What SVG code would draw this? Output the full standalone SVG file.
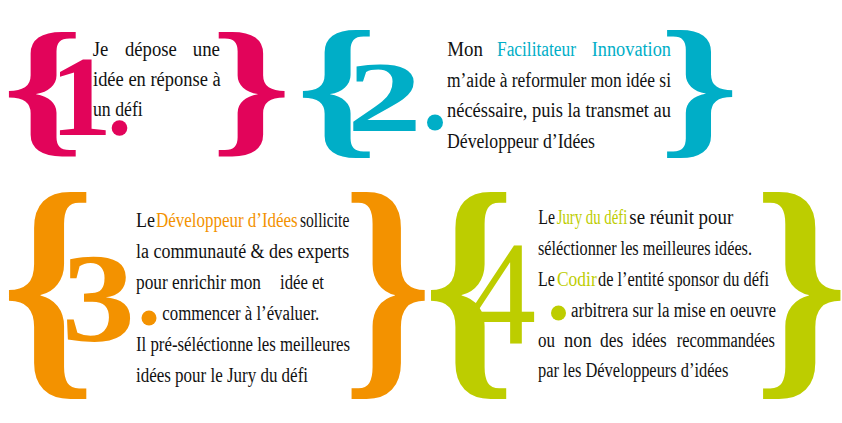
<svg xmlns="http://www.w3.org/2000/svg" width="842" height="423" viewBox="0 0 842 423">
<style>
.t{font-family:"Liberation Serif","Times New Roman",serif;font-size:20px;fill:#111}
.br{font-family:"Liberation Serif","Times New Roman",serif;font-weight:bold}
.num{font-family:"Liberation Serif","Times New Roman",serif;font-weight:bold}
.pink{fill:#E2045A}
.teal{fill:#00AEC7}
.orange{fill:#F39200}
.green{fill:#BDCD00}
</style>
<rect width="842" height="423" fill="#fff"/>
<g id="node1">
<text class="br pink" font-size="151" text-anchor="middle" transform="translate(43,137) scale(1.37,1)">{</text>
<text class="br pink" font-size="151" text-anchor="middle" transform="translate(251,137) scale(1.35,1)">}</text>
<text class="num pink" font-size="114" transform="translate(50,135) scale(1.09,1)">1</text>
<circle class="pink" cx="119.5" cy="128" r="7.8"/>
<text class="t" x="92.7" y="56" textLength="15.6" lengthAdjust="spacingAndGlyphs">Je</text>
<text class="t" x="125" y="56" textLength="51.7" lengthAdjust="spacingAndGlyphs">dépose</text>
<text class="t" x="192.7" y="56" textLength="27.3" lengthAdjust="spacingAndGlyphs">une</text>
<text class="t" x="93" y="86" textLength="127.7" lengthAdjust="spacingAndGlyphs">idée en réponse à</text>
<text class="t" x="93" y="116" textLength="49.7" lengthAdjust="spacingAndGlyphs">un défi</text>
</g>
<g id="node2">
<text class="br teal" font-size="155" text-anchor="middle" transform="translate(337,138) scale(1.336,1)">{</text>
<text class="br teal" font-size="155" text-anchor="middle" transform="translate(699,137) scale(1.3,1)">}</text>
<text class="num teal" font-size="100" transform="translate(347,130) scale(1.5,1)">2</text>
<circle class="teal" cx="435" cy="122.5" r="8"/>
<text class="t" x="447.3" y="56" textLength="35.7" lengthAdjust="spacingAndGlyphs">Mon</text>
<text class="t teal" x="497" y="56" textLength="79" lengthAdjust="spacingAndGlyphs">Facilitateur</text>
<text class="t teal" x="591.7" y="56" textLength="79.3" lengthAdjust="spacingAndGlyphs">Innovation</text>
<text class="t" x="447" y="86.5" textLength="224" lengthAdjust="spacingAndGlyphs">m’aide à reformuler mon idée si</text>
<text class="t" x="447" y="117" textLength="224" lengthAdjust="spacingAndGlyphs">nécéssaire, puis la transmet au</text>
<text class="t" x="447" y="147.5" textLength="148" lengthAdjust="spacingAndGlyphs">Développeur d’Idées</text>
</g>
<g id="node3">
<text class="br orange" font-size="250" text-anchor="middle" transform="translate(48.5,365.5) scale(0.958,1)">{</text>
<text class="br orange" font-size="250" text-anchor="middle" transform="translate(387.5,365.5) scale(0.906,1)">}</text>
<text class="num orange" font-size="128" transform="translate(61.6,341) scale(1.15,1)">3</text>
<circle class="orange" cx="149" cy="318" r="7.5"/>
<text class="t" x="136" y="226.7" textLength="19" lengthAdjust="spacingAndGlyphs">Le</text>
<text class="t orange" x="156" y="226.7" textLength="141.7" lengthAdjust="spacingAndGlyphs">Développeur d’Idées</text>
<text class="t" x="300" y="226.7" textLength="49.3" lengthAdjust="spacingAndGlyphs">sollicite</text>
<text class="t" x="136" y="257.5" textLength="213.3" lengthAdjust="spacingAndGlyphs">la communauté &amp; des experts</text>
<text class="t" x="136" y="288.5" textLength="125" lengthAdjust="spacingAndGlyphs">pour enrichir mon</text>
<text class="t" x="280" y="288.5" textLength="44" lengthAdjust="spacingAndGlyphs">idée et</text>
<text class="t" x="162.3" y="319.5" textLength="157" lengthAdjust="spacingAndGlyphs">commencer à l’évaluer.</text>
<text class="t" x="136" y="350.5" textLength="214" lengthAdjust="spacingAndGlyphs">Il pré-séléctionne les meilleures</text>
<text class="t" x="136" y="381.5" textLength="172" lengthAdjust="spacingAndGlyphs">idées pour le Jury du défi</text>
</g>
<g id="node4">
<text class="br green" font-size="250" text-anchor="middle" transform="translate(469.4,365.5) scale(0.932,1)">{</text>
<text class="br green" font-size="250" text-anchor="middle" transform="translate(801,365.5) scale(0.958,1)">}</text>
<text class="green" font-family="Liberation Serif, serif" font-size="149" transform="translate(467,343) scale(0.93,1)">4</text>
<circle class="green" cx="558.5" cy="313" r="7.5"/>
<text class="t" x="538.3" y="224" textLength="16.7" lengthAdjust="spacingAndGlyphs">Le</text>
<text class="t green" x="556.7" y="224" textLength="70.6" lengthAdjust="spacingAndGlyphs">Jury du défi</text>
<text class="t" x="629.3" y="224" textLength="104" lengthAdjust="spacingAndGlyphs">se réunit pour</text>
<text class="t" x="538" y="255" textLength="214" lengthAdjust="spacingAndGlyphs">séléctionner les meilleures idées.</text>
<text class="t" x="538" y="286" textLength="16.7" lengthAdjust="spacingAndGlyphs">Le</text>
<text class="t green" x="557" y="286" textLength="39.7" lengthAdjust="spacingAndGlyphs">Codir</text>
<text class="t" x="598" y="286" textLength="171" lengthAdjust="spacingAndGlyphs">de l’entité sponsor du défi</text>
<text class="t" x="571" y="316.7" textLength="205" lengthAdjust="spacingAndGlyphs">arbitrera sur la mise en oeuvre</text>
<text class="t" x="538" y="347.3" textLength="17" lengthAdjust="spacingAndGlyphs">ou</text>
<text class="t" x="564" y="347.3" textLength="27.7" lengthAdjust="spacingAndGlyphs">non</text>
<text class="t" x="600" y="347.3" textLength="23.3" lengthAdjust="spacingAndGlyphs">des</text>
<text class="t" x="631.7" y="347.3" textLength="35" lengthAdjust="spacingAndGlyphs">idées</text>
<text class="t" x="676.7" y="347.3" textLength="98.3" lengthAdjust="spacingAndGlyphs">recommandées</text>
<text class="t" x="538" y="377.3" textLength="190.3" lengthAdjust="spacingAndGlyphs">par les Développeurs d’idées</text>
</g>
<g id="connectors"></g>
</svg>
